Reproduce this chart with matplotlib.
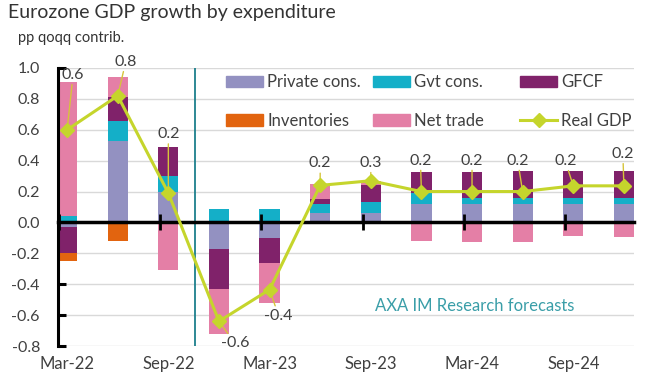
import numpy as np
import matplotlib
matplotlib.use("Agg")
import matplotlib.pyplot as plt
from matplotlib.patches import Patch
from matplotlib.lines import Line2D
from matplotlib.legend import Legend

plt.rcParams['font.family'] = ['Lato', 'DejaVu Sans']
plt.rcParams['axes.unicode_minus'] = False

# data (pp q/q contributions)
quarters = ["Mar-22", "Jun-22", "Sep-22", "Dec-22", "Mar-23", "Jun-23",
            "Sep-23", "Dec-23", "Mar-24", "Jun-24", "Sep-24", "Dec-24"]
private_cons = [-0.03, 0.53, 0.20, -0.17, -0.10, 0.06, 0.06, 0.12, 0.12, 0.12, 0.12, 0.12]
gvt_cons = [0.04, 0.13, 0.10, 0.085, 0.085, 0.06, 0.075, 0.07, 0.04, 0.04, 0.04, 0.04]
gfcf = [-0.17, 0.155, 0.186, -0.26, -0.165, 0.03, 0.105, 0.135, 0.165, 0.17, 0.17, 0.17]
inventories = [-0.05, -0.12, 0, 0, 0, 0, 0, 0, 0, 0, 0, 0]
net_trade = [0.87, 0.125, -0.306, -0.29, -0.255, 0.10, 0.03, -0.12, -0.125, -0.125, -0.09, -0.095]
real_gdp = [0.60, 0.82, 0.19, -0.64, -0.435, 0.24, 0.27, 0.20, 0.20, 0.20, 0.237, 0.237]

# label offsets from the marker, in pixels
label_offsets = [(6, 55), (8, 34), (0, 59), (16, -22), (9, -26), (0, 22),
                 (0, 18), (-1, 31), (0, 31), (-5, 31), (-8, 25), (-1, 32)]
forecast_split = 2.53

c_priv = "#9391c1"
c_gvt = "#14afc8"
c_gfcf = "#80226a"
c_inv = "#e2640f"
c_net = "#e47fa6"
c_gdp = "#c5d52c"
txt = "#404040"

fig = plt.figure(figsize=(6.55, 3.8), dpi=100)
ax = fig.add_axes([58 / 655, 34 / 380, 576 / 655, 278 / 380])

x = np.arange(len(quarters))
pos_base = np.zeros(len(x))
neg_base = np.zeros(len(x))
series = [(private_cons, c_priv), (gvt_cons, c_gvt), (gfcf, c_gfcf),
          (inventories, c_inv), (net_trade, c_net)]
for vals, col in series:
    v = np.array(vals, dtype=float)
    base = np.where(v >= 0, pos_base, neg_base)
    ax.bar(x, v, 0.4, bottom=base, color=col, zorder=1)
    pos_base += np.clip(v, 0, None)
    neg_base += np.clip(v, None, 0)

ax.plot(x, real_gdp, color=c_gdp, lw=2.2, marker="D", ms=7, zorder=4)

for xi, v, (dx, dy) in zip(x, real_gdp, label_offsets):
    ax.annotate(f"{v:.1f}", (xi, v), xytext=(dx, dy), textcoords="offset pixels",
                ha="center", va="center", fontsize=11.5, color=txt,
                arrowprops=dict(arrowstyle="-", color="#d6c43a", lw=1,
                                shrinkA=0, shrinkB=0), zorder=3)

ax.axvline(forecast_split, color="#1c7f8c", lw=1.3, zorder=1.5)
ax.text(6.09, -0.54, "AXA IM Research forecasts", color="#3a9ea8",
        fontsize=12, va="center", ha="left")

ax.set_xlim(-0.18, 11.2)
ax.set_ylim(-0.8, 1.0)
yt = np.round(np.arange(-0.8, 1.01, 0.2), 1) + 0.0
ax.set_yticks(yt, [f"{t:.1f}".replace("-0.0", "0.0") for t in yt])
ax.yaxis.grid(True, color="#d9d9d9", lw=1)
ax.set_axisbelow(True)
ax.tick_params(axis="y", direction="in", length=6, width=2.2, color="black",
               labelsize=11.5, labelcolor=txt, pad=13)

for s in ["top", "right"]:
    ax.spines[s].set_visible(False)
ax.spines["left"].set_linewidth(2.2)
ax.spines["bottom"].set_position(("data", 0))
ax.spines["bottom"].set_linewidth(2.5)
ax.set_xticks(x[::2] - 0.16, [""] * len(x[::2]))
ax.tick_params(axis="x", direction="inout", length=11, width=2, color="black")
ax.xaxis.set_zorder(3)

sec = ax.secondary_xaxis("bottom")
sec.set_xticks(x[::2], quarters[::2])
sec.tick_params(length=0, pad=7, labelsize=12, labelcolor=txt)
sec.spines["bottom"].set_visible(False)

# legend, one block per column
entries = [
    [(Patch(color=c_priv), "Private cons."), (Patch(color=c_inv), "Inventories")],
    [(Patch(color=c_gvt), "Gvt cons."), (Patch(color=c_net), "Net trade")],
    [(Patch(color=c_gfcf), "GFCF"),
     (Line2D([], [], color=c_gdp, lw=2.2, marker="D", ms=7), "Real GDP")],
]
anchors = [218, 365, 512]
for col, xa in zip(entries, anchors):
    leg = Legend(ax, [h for h, _ in col], [l for _, l in col], loc="upper left",
                 bbox_to_anchor=(xa / 655, 1 - 66 / 380),
                 bbox_transform=fig.transFigure, frameon=False, borderpad=0,
                 fontsize=12, handlelength=2.2, handleheight=0.7,
                 handletextpad=0.25, labelspacing=1.35, labelcolor=txt)
    ax.add_artist(leg)

fig.text(8 / 655, 1 - 4 / 380, "Eurozone GDP growth by expenditure",
         fontsize=14, color="#333333", va="top", ha="left")
fig.text(18 / 655, 1 - 31 / 380, "pp qoqq contrib.", fontsize=10.5,
         color="#333333", va="top", ha="left")

fig.savefig("out.png", dpi=100)
